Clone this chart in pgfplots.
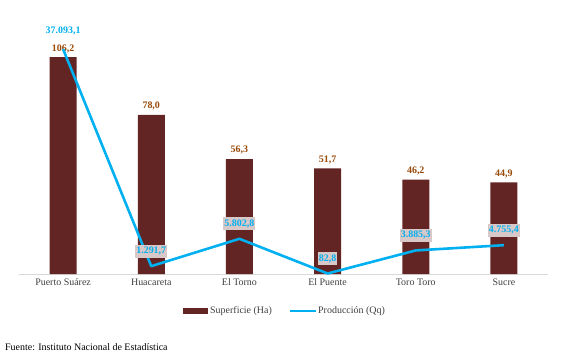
\documentclass[border=0pt]{standalone}
\usepackage{pgfplots}
\pgfplotsset{compat=1.18}
\usepackage{fontspec}
\setmainfont{Liberation Serif}
\definecolor{barred}{HTML}{632523}
\definecolor{lblbrown}{HTML}{984807}
\definecolor{lcyan}{HTML}{00B0F0}
\definecolor{axgray}{HTML}{D9D9D9}
\definecolor{boxfill}{HTML}{D8C8C8}
\begin{document}
\begin{tikzpicture}[x=1bp,y=1bp]
\useasboundingbox (-19,-84) rectangle (554,274);
\begin{axis}[
  at={(0,0)}, anchor=south west,
  scale only axis, width=529bp, height=245bp,
  xmin=-0.5, xmax=5.5, ymin=0, ymax=120,
  xtick={0,1,2,3,4,5},
  xticklabels={Puerto Suárez,Huacareta,El Torno,El Puente,Toro Toro,Sucre},
  ticklabel style={font=\fontsize{10}{12}\selectfont, text=black!75},
  xtick style={draw=none},
  ytick=\empty,
  axis y line=none,
  axis x line*=bottom,
  x axis line style={draw=axgray, line width=0.8pt, -},
  xticklabel style={yshift=-1bp},
  clip=false,
  /pgf/number format/assume math mode=true,
]
\addplot[ybar, bar width=27bp, fill=barred, draw=none,
  nodes near coords={\pgfmathprintnumber[fixed,fixed zerofill,precision=1,use comma,assume math mode=true]{\pgfplotspointmeta}},
  nodes near coords style={font=\bfseries\fontsize{10}{12}\selectfont, text=lblbrown, yshift=1bp},
] coordinates {(0,106.2) (1,78.0) (2,56.3) (3,51.7) (4,46.2) (5,44.9)};
\end{axis}
\begin{axis}[
  at={(0,0)}, anchor=south west,
  scale only axis, width=529bp, height=245bp,
  xmin=-0.5, xmax=5.5, ymin=0, ymax=40400,
  axis lines=none, ticks=none,
  clip=false,
  /pgf/number format/assume math mode=true,
]
\addplot[lcyan, line width=2.6pt, line join=round]
  coordinates {(0,37093.1) (1,1291.7) (2,5802.8) (3,82.8) (4,3885.3) (5,4755.4)};
\addplot[draw=none, mark=none,
  nodes near coords={\pgfmathprintnumber[fixed,fixed zerofill,precision=1,use comma,1000 sep={.},assume math mode=true]{\pgfplotspointmeta}},
  nodes near coords style={font=\bfseries\fontsize{10}{12}\selectfont, text=lcyan, anchor=center, yshift=18bp},
] coordinates {(0,37093.1)};
\addplot[draw=none, mark=none,
  nodes near coords={\pgfmathprintnumber[fixed,fixed zerofill,precision=1,use comma,1000 sep={.},assume math mode=true]{\pgfplotspointmeta}},
  nodes near coords style={font=\bfseries\fontsize{10}{12}\selectfont, text=lcyan, fill=boxfill, inner xsep=1pt, inner ysep=2.5pt, anchor=center, yshift=15bp},
] coordinates {(1,1291.7) (2,5802.8) (3,82.8) (4,3885.3) (5,4755.4)};
\end{axis}
% legend
\begin{scope}[shift={(0,-37)}]
\fill[barred] (164,-3) rectangle (189,3);
\node[anchor=west, font=\fontsize{10}{12}\selectfont, text=black!75, inner sep=0pt] at (191,0) {Superficie (Ha)};
\draw[lcyan, line width=2.6pt] (271,0) -- (297,0);
\node[anchor=west, font=\fontsize{10}{12}\selectfont, text=black!75, inner sep=0pt] at (299,0) {Producción (Qq)};
\end{scope}
\node[anchor=west, font=\fontsize{10}{12}\selectfont, inner sep=0pt] at (-14,-73) {Fuente: Instituto Nacional de Estadística};
\end{tikzpicture}
\end{document}
